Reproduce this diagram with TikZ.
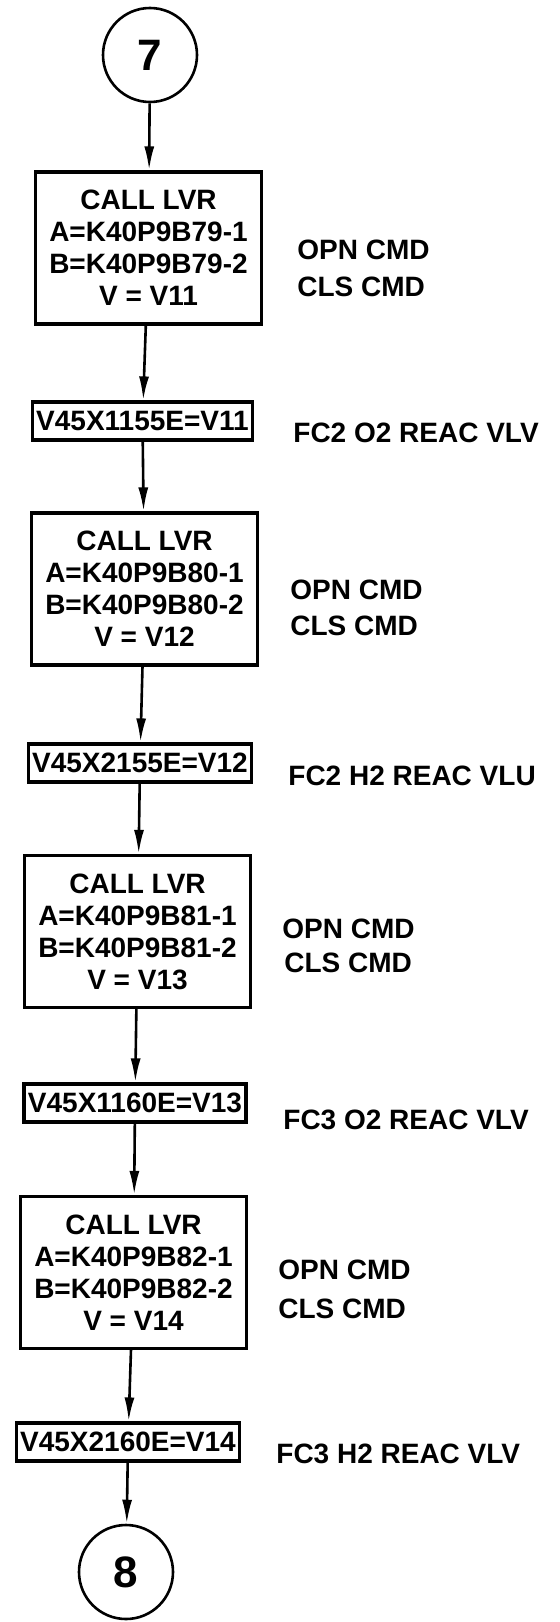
\documentclass[tikz,border=0pt]{standalone}
\usepackage{fontspec}
\setmainfont{Liberation Sans}
\usetikzlibrary{arrows.meta, positioning}

\begin{document}
\begin{tikzpicture}[x=0.5pt, y=-0.5pt,
        font=\fontsize{14}{16}\selectfont\bfseries,
        callbox/.style={draw, line width=1.6pt, minimum width=113pt, minimum height=76pt, align=center, inner sep=2pt},
        setbox/.style={draw, line width=1.6pt, minimum height=19pt, inner xsep=2pt, inner ysep=1pt},
        pagecon/.style={draw, circle, line width=1.3pt, minimum size=47pt, font=\fontsize{22}{22}\selectfont\bfseries},
        note/.style={anchor=west, inner sep=0pt},
        flow/.style={line width=1.3pt, -{Latex[length=12pt, width=5pt]}}]
            \useasboundingbox (0,0) rectangle (559,1622);

            % Conector de entrada
            \node[pagecon] (c7) at (150, 55) {7};

            % LVR 1 - FC2 O2
            \node[callbox] (lvr1) at (148.5, 248) {CALL LVR\\A=K40P9B79-1\\B=K40P9B79-2\\V = V11};
            \node[note] (opn1) at (297, 250) {OPN CMD};
            \node[note] (cls1) at (297, 287) {CLS CMD};
            \node[setbox] (set1) at (142.5, 421) {V45X1155E=V11};
            \node[note] (fc1) at (293, 433) {FC2 O2 REAC VLV};

            % LVR 2 - FC2 H2
            \node[callbox] (lvr2) at (144.5, 589) {CALL LVR\\A=K40P9B80-1\\B=K40P9B80-2\\V = V12};
            \node[note] (opn2) at (290, 590) {OPN CMD};
            \node[note] (cls2) at (290, 626) {CLS CMD};
            \node[setbox] (set2) at (140, 763) {V45X2155E=V12};
            \node[note] (fc2) at (288, 776) {FC2 H2 REAC VLU};

            % LVR 3 - FC3 O2
            \node[callbox] (lvr3) at (137.5, 931.5) {CALL LVR\\A=K40P9B81-1\\B=K40P9B81-2\\V = V13};
            \node[note] (opn3) at (282, 929) {OPN CMD};
            \node[note] (cls3) at (284, 963) {CLS CMD};
            \node[setbox] (set3) at (135, 1103) {V45X1160E=V13};
            \node[note] (fc3) at (283, 1120) {FC3 O2 REAC VLV};

            % LVR 4 - FC3 H2
            \node[callbox] (lvr4) at (133.5, 1272.5) {CALL LVR\\A=K40P9B82-1\\B=K40P9B82-2\\V = V14};
            \node[note] (opn4) at (278, 1270) {OPN CMD};
            \node[note] (cls4) at (278, 1309) {CLS CMD};
            \node[setbox] (set4) at (128, 1442) {V45X2160E=V14};
            \node[note] (fc4) at (276, 1454) {FC3 H2 REAC VLV};

            % Conector de salida
            \node[pagecon] (c8) at (126, 1572) {8};

            % Flechas
            \draw[flow] (c7) -- (lvr1);
            \draw[flow] (lvr1) -- (set1);
            \draw[flow] (set1) -- (lvr2);
            \draw[flow] (lvr2) -- (set2);
            \draw[flow] (set2) -- (lvr3);
            \draw[flow] (lvr3) -- (set3);
            \draw[flow] (set3) -- (lvr4);
            \draw[flow] (lvr4) -- (set4);
            \draw[flow] (set4) -- (c8);
        \end{tikzpicture}
\end{document}
